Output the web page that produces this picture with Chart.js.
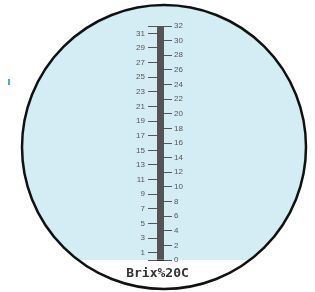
<!DOCTYPE html>
<html>
<head>
<meta charset="utf-8">
<script src="https://cdn.jsdelivr.net/npm/chart.js@4/dist/chart.umd.min.js"></script>
<style>
  html, body { margin: 0; padding: 0; background: #fff; }
  canvas { display: block; }
</style>
</head>
<body>
<canvas id="scope" width="315" height="292"></canvas>
<script>
// --- DATA ---
const scaleRange = [0, 32];
const leftLabels = [1, 3, 5, 7, 9, 11, 13, 15, 17, 19, 21, 23, 25, 27, 29, 31];
const rightLabels = [0, 2, 4, 6, 8, 10, 12, 14, 16, 18, 20, 22, 24, 26, 28, 30, 32];
const minorStep = 0.25;
const unitLabel = 'Brix%20C';

const FIELD = '#d4edf5';
const INK = '#555';

// eyepiece circle behind the scale
const eyepiece = {
  id: 'eyepiece',
  beforeDraw(chart) {
    const ctx = chart.ctx;
    const y0 = chart.scales.yL.getPixelForValue(scaleRange[0]);
    const cx = 164, cy = 147, r = 142;
    ctx.save();
    ctx.beginPath();
    ctx.arc(cx, cy, r, 0, Math.PI * 2);
    ctx.clip();
    ctx.fillStyle = FIELD;
    ctx.fillRect(0, 0, chart.width, y0);
    ctx.fillStyle = '#fff';
    ctx.fillRect(0, y0, chart.width, chart.height - y0);
    ctx.restore();
    ctx.save();
    ctx.beginPath();
    ctx.arc(cx, cy, r, 0, Math.PI * 2);
    ctx.lineWidth = 2.5;
    ctx.strokeStyle = '#111';
    ctx.stroke();
    // little blue mark on the left
    ctx.fillStyle = '#4aa6df';
    ctx.fillRect(8, 79, 2, 6);
    ctx.restore();
  }
};

const isEnd = v => v === scaleRange[0] || v === scaleRange[1];

new Chart(document.getElementById('scope'), {
  type: 'bar',
  data: {
    labels: ['scale'],
    datasets: [{
      data: [scaleRange],
      backgroundColor: '#545454',
      barPercentage: 1,
      categoryPercentage: 1,
      yAxisID: 'yL'
    }]
  },
  options: {
    responsive: false,
    animation: false,
    devicePixelRatio: 1,
    layout: { padding: { top: 26, left: 0, right: 0, bottom: 0 } },
    plugins: {
      legend: { display: false },
      tooltip: { enabled: false },
      title: {
        display: true,
        position: 'bottom',
        text: unitLabel,
        color: '#333',
        font: { family: 'DejaVu Sans Mono', size: 13, weight: 'bold', lineHeight: 1.2 },
        padding: { top: 5.5, bottom: 10.9 }
      }
    },
    scales: {
      x: { display: false },
      yL: {
        position: 'left',
        min: scaleRange[0],
        max: scaleRange[1],
        z: 1,
        border: { display: false },
        grid: {
          color: '#2e2e2e',
          lineWidth: 1,
          tickLength: 9,
          tickColor: c => (leftLabels.includes(c.tick.value) || isEnd(c.tick.value)) ? INK : 'rgba(0,0,0,0)'
        },
        ticks: {
          stepSize: minorStep,
          autoSkip: false,
          padding: 3,
          color: INK,
          font: { family: 'Liberation Sans', size: 8 },
          callback: v => leftLabels.includes(v) ? String(v) : ''
        },
        afterFit: s => { s.width = 157; }
      },
      yR: {
        position: 'right',
        min: scaleRange[0],
        max: scaleRange[1],
        border: { display: false },
        grid: {
          drawOnChartArea: false,
          tickLength: 8,
          tickColor: c => rightLabels.includes(c.tick.value) ? INK : 'rgba(0,0,0,0)'
        },
        ticks: {
          stepSize: 1,
          autoSkip: false,
          padding: 2,
          color: INK,
          font: { family: 'Liberation Sans', size: 8 },
          callback: v => rightLabels.includes(v) ? String(v) : ''
        },
        afterFit: s => { s.width = 315 - 164; }
      }
    }
  },
  plugins: [eyepiece]
});
</script>
</body>
</html>
